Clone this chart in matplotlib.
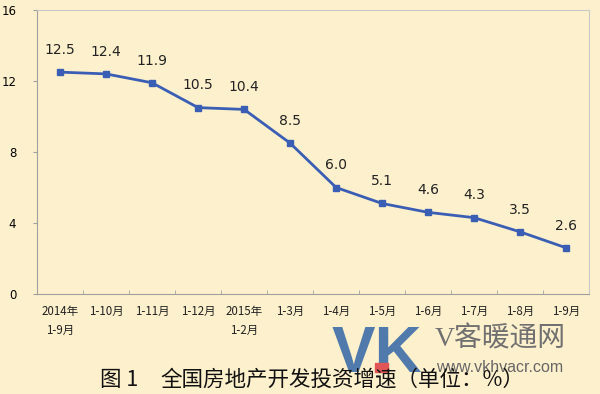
import matplotlib.pyplot as plt
import numpy as np
from matplotlib.patches import Rectangle

plt.rcParams['font.family'] = ['Noto Sans CJK SC', 'DejaVu Sans']

# data
categories = ['2014年\n1-9月', '1-10月', '1-11月', '1-12月', '2015年\n1-2月', '1-3月',
              '1-4月', '1-5月', '1-6月', '1-7月', '1-8月', '1-9月']
growth = [12.5, 12.4, 11.9, 10.5, 10.4, 8.5, 6.0, 5.1, 4.6, 4.3, 3.5, 2.6]
yticks = [0, 4, 8, 12, 16]

bg = '#FDF0CC'
line_col = '#3B5EB5'

fig = plt.figure(figsize=(6, 3.94), dpi=100)
fig.patch.set_facecolor(bg)
ax = fig.add_axes([0.0617, 0.2538, 0.9203, 0.7208])
ax.set_facecolor(bg)

x = np.arange(len(categories))
ax.plot(x, growth, color=line_col, lw=2, marker='s', ms=5, mfc=line_col, mec=line_col)
for xi, v in zip(x, growth):
    ax.annotate(f'{v:.1f}', (xi, v), xytext=(0, 11), textcoords='offset points',
                ha='center', va='bottom', fontsize=10, color='#222222', family='DejaVu Sans')

ax.set_xlim(-0.5, len(categories) - 0.5)
ax.set_ylim(0, 16)
ax.set_yticks(yticks)
ax.set_yticklabels([str(t) for t in yticks], fontsize=8.5, family='DejaVu Sans')
ax.set_xticks(x)
ax.set_xticklabels(categories, fontsize=8.3, linespacing=1.55, color='#222222')
ax.set_xticks(np.arange(0.5, len(categories) - 0.5), minor=True)
ax.tick_params(axis='x', which='major', length=0, pad=8)
ax.tick_params(axis='x', which='minor', length=3, direction='in', color='#A0A0A0')
ax.tick_params(axis='y', length=3, direction='out', color='#A0A0A0', pad=12)
for s in ax.spines.values():
    s.set_color('#C8C8C8')
    s.set_linewidth(0.8)
ax.spines['left'].set_color('#A0A0A0')
ax.spines['bottom'].set_color('#A0A0A0')

# watermark
fig.text(0.553, 0.055, 'VK', fontsize=47, fontweight='bold', color='#4F7AAB',
         ha='left', va='baseline', family='Liberation Sans')
fig.patches.append(Rectangle((375 / 600, 22 / 394), 13 / 600, 9 / 394,
                             transform=fig.transFigure, color='#E05555', zorder=5))
fig.text(0.725, 0.138, 'V客暖通网', fontsize=20, color='#707070', ha='left', va='center',
         family=['Liberation Serif', 'Noto Sans CJK SC'])
fig.text(0.726, 0.068, 'www.vkhvacr.com', fontsize=11.5, color='#666666', ha='left',
         va='center', family='Liberation Sans')

fig.text(100 / 600, 0.0355, '图 1', fontsize=15.5, ha='left', va='center', color='#111111',
         zorder=10)
fig.text(160 / 600, 0.0355, '全国房地产开发投资增速（单位：%）', fontsize=15.5, ha='left',
         va='center', color='#111111', zorder=10)

fig.savefig('out.png', dpi=100, facecolor=bg)
